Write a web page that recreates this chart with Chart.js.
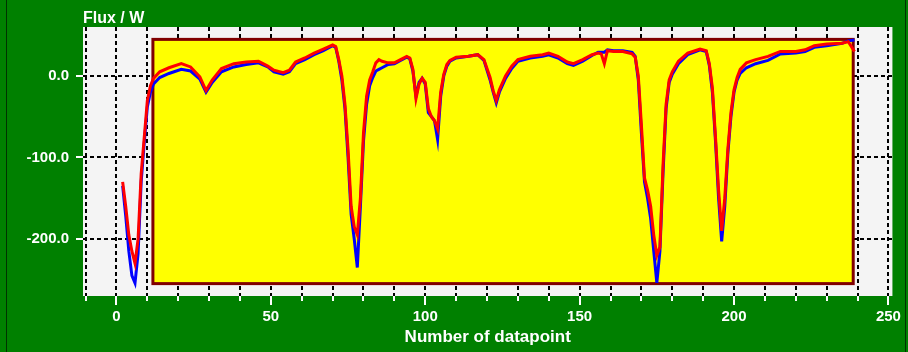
<!DOCTYPE html>
<html>
<head>
<meta charset="utf-8">
<script src="https://cdn.jsdelivr.net/npm/chart.js@4.4.1/dist/chart.umd.min.js"></script>
<style>
    body { margin: 0; background: #008000; }
    #wrap { position: relative; width: 908px; height: 352px; }
    #frame { position: absolute; left: 6px; top: 0; width: 898px; height: 352px;
             border-left: 1px solid #003300; border-right: 1px solid #003300; pointer-events: none; }
</style>
</head>
<body>
<div id="wrap">
    <canvas id="grafico" width="908" height="352"></canvas>
    <div id="frame"></div>
</div>
<script>
// number of datapoint (shared by both curves)
const datapoint = [2,3,4,5,6,7,8,9,10,11,12,14,17,21,24,27,29,31,34,38,42,46,49,51,54,56,58,61,64,67,
    70,71,72,73,74,75,76,77,78,79,80,81,82,83,84,85,86,88,90,92,94,95,96,97,98,99,100,101,102,103,104,
    105,106,107,108,110,114,117,119,121,122,123,124,126,128,130,134,138,140,143,146,148,151,154,156,157,
    158,159,161,164,167,168,169,170,171,172,173,174,175,176,177,178,179,180,182,185,189,191,192,193,194,
    195,196,197,198,199,200,201,202,204,207,211,215,220,223,226,230,235,237,239];

// measured flux (blue)
const fluxBlue = [-135,-172,-215,-245,-254,-218,-130,-82,-38,-20,-10,-2,3,8,6,-4,-20,-8,5,11,14,16,11,5,2,5,15,20,26,31,
    37,35,18,-5,-40,-100,-170,-200,-235,-160,-80,-35,-12,-2,6,8,10,14,15,19,23,21,6,-25,-8,-3,-10,-45,-50,-55,-78,
    -25,0,12,18,22,24,26,19,-5,-20,-33,-20,-3,9,18,22,24,26,22,15,13,18,25,29,29,
    29,32,31,31,29,24,-5,-70,-130,-150,-175,-215,-254,-215,-120,-40,-8,2,15,26,32,30,13,-20,-80,
    -150,-203,-160,-95,-50,-20,-5,3,10,15,19,27,28,30,35,37,40,43,44];

// fitted flux (red)
const fluxRed = [-130,-160,-195,-215,-230,-200,-120,-75,-30,-12,-3,5,10,15,11,-1,-18,-5,9,15,17,18,12,7,4,7,17,22,28,33,
    38,36,20,0,-35,-90,-160,-185,-195,-150,-70,-25,-5,5,16,20,18,16,16,20,24,22,8,-28,-10,-3,-8,-40,-50,-55,-65,
    -20,2,14,19,23,24,26,20,-2,-18,-30,-17,0,12,20,24,26,28,24,17,15,20,26,28,27,
    15,31,30,30,27,23,0,-60,-125,-140,-160,-195,-220,-210,-110,-35,-5,5,18,28,33,31,15,-15,-75,
    -140,-190,-150,-90,-45,-17,-2,8,16,20,24,30,30,32,37,39,40,42,30];

// axis ranges and ticks
const xRange = [-10.84, 251.3];
const yRange = [-270, 60];
const xStep = 10;
const xLabelStep = 50;
const yStep = 100;

// highlighted region (yellow box)
const boxX = [11.8, 238.6];
const boxY = [-254.8, 44.8];

const fonte = '"Liberation Sans", Arial, sans-serif';

const fundoPlugin = {
    id: "fundo",
    beforeDraw(chart) {
        const { ctx, chartArea: a } = chart;
        ctx.save();
        ctx.fillStyle = "#008000";
        ctx.fillRect(0, 0, chart.width, chart.height);
        ctx.fillStyle = "#f4f4f4";
        ctx.fillRect(a.left, a.top, a.right - a.left, a.bottom - a.top);
        ctx.restore();
    },
    beforeDatasetsDraw(chart) {
        const { ctx, chartArea: a, scales } = chart;
        const x0 = scales.x.getPixelForValue(boxX[0]);
        const x1 = scales.x.getPixelForValue(boxX[1]);
        const y0 = scales.y.getPixelForValue(boxY[1]);
        const y1 = scales.y.getPixelForValue(boxY[0]);
        ctx.save();
        ctx.fillStyle = "#ffff00";
        ctx.fillRect(x0, y0, x1 - x0, y1 - y0);
        ctx.strokeStyle = "#800000";
        ctx.lineWidth = 3;
        ctx.strokeRect(x0, y0, x1 - x0, y1 - y0);

        // longer tick marks at labelled values
        ctx.strokeStyle = "#ffffff";
        ctx.lineWidth = 2;
        for (let v = 0; v <= xRange[1]; v += xLabelStep) {
            const px = Math.round(scales.x.getPixelForValue(v));
            ctx.beginPath();
            ctx.moveTo(px, a.bottom + 4);
            ctx.lineTo(px, a.bottom + 9);
            ctx.stroke();
        }

        ctx.fillStyle = "#ffffff";
        ctx.font = "bold 16px " + fonte;
        ctx.textBaseline = "alphabetic";
        ctx.fillText("Flux / W", a.left, a.top - 4);
        ctx.restore();
    }
};

const ctx = document.getElementById("grafico");

new Chart(ctx, {
    type: "line",
    data: {
        datasets: [
            {
                label: "fit",
                data: datapoint.map((x, i) => ({ x: x, y: fluxRed[i] })),
                borderColor: "#ff0000",
                borderWidth: 3,
                pointRadius: 0,
                tension: 0,
            },
            {
                label: "measured",
                data: datapoint.map((x, i) => ({ x: x, y: fluxBlue[i] })),
                borderColor: "#0000ff",
                borderWidth: 3,
                pointRadius: 0,
                tension: 0,
            }
        ]
    },
    options: {
        responsive: false,
        animation: false,
        devicePixelRatio: 1,
        layout: { padding: { left: 0, right: 15, top: 27, bottom: 0 } },
        plugins: { legend: { display: false }, tooltip: { enabled: false } },
        scales: {
            x: {
                type: "linear",
                min: xRange[0],
                max: xRange[1],
                afterFit: s => { s.height = 56; },
                ticks: {
                    stepSize: xStep,
                    includeBounds: false,
                    autoSkip: false,
                    maxRotation: 0,
                    padding: 7,
                    color: "#ffffff",
                    font: { family: fonte, size: 15, weight: "bold" },
                    callback: v => (v % xLabelStep === 0 ? String(v) : "")
                },
                grid: {
                    color: "#000000",
                    lineWidth: 2,
                    tickLength: 5,
                    tickColor: "#ffffff",
                    tickWidth: 2
                },
                border: { display: false, dash: [4, 3] },
                title: {
                    display: true,
                    text: "Number of datapoint",
                    color: "#ffffff",
                    font: { family: fonte, size: 17, weight: "bold" },
                    padding: { top: 0, bottom: 4 }
                }
            },
            y: {
                type: "linear",
                min: yRange[0],
                max: yRange[1],
                afterFit: s => { s.width = 83; },
                ticks: {
                    stepSize: yStep,
                    includeBounds: false,
                    padding: 7,
                    color: "#ffffff",
                    font: { family: fonte, size: 15, weight: "bold" },
                    callback: v => v.toFixed(1)
                },
                grid: {
                    color: "#000000",
                    lineWidth: 2,
                    tickLength: 7,
                    tickColor: "#ffffff",
                    tickWidth: 2
                },
                border: { display: false, dash: [4, 3] }
            }
        }
    },
    plugins: [fundoPlugin]
});
</script>
</body>
</html>
